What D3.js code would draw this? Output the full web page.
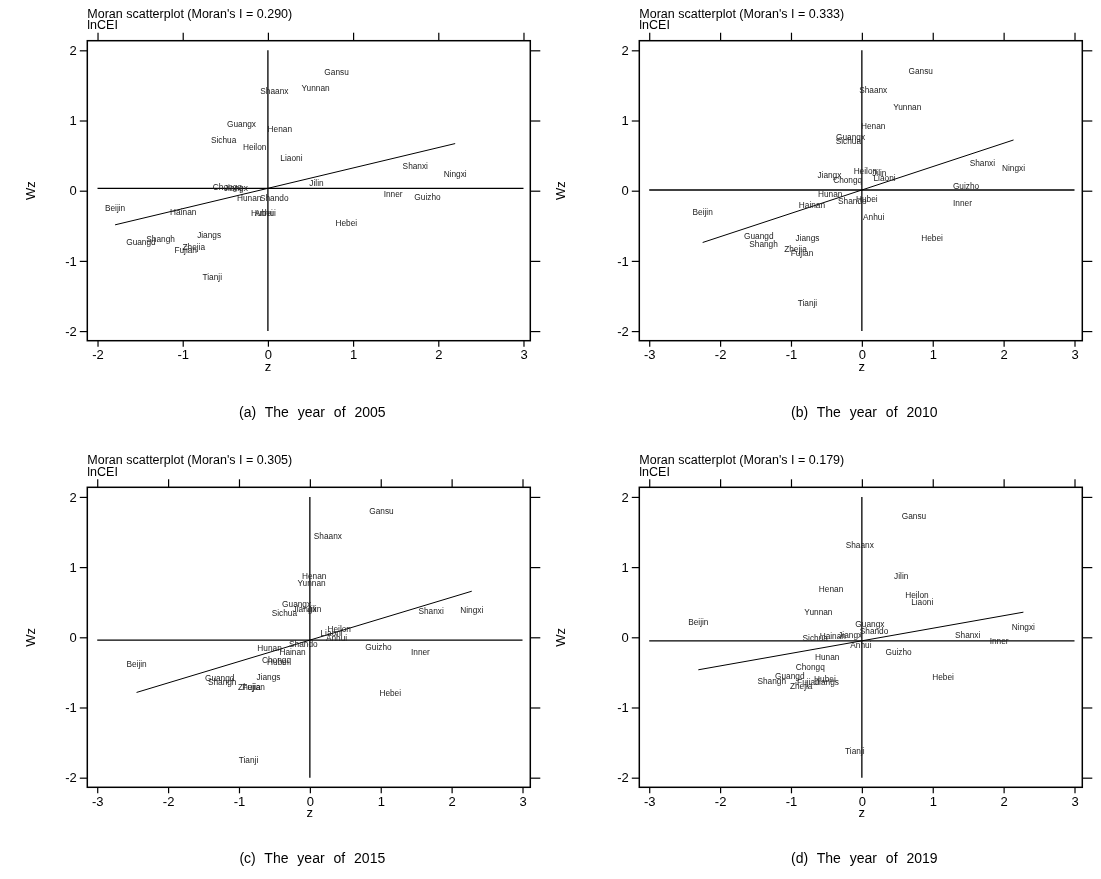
<!DOCTYPE html>
<html><head><meta charset="utf-8">
<script src="https://cdn.jsdelivr.net/npm/d3@7"></script>
<style>
body{margin:0;background:#fff;}
svg{display:block;will-change:transform;}
text{font-family:"Liberation Sans",Arial,sans-serif;}
</style></head>
<body><svg id="chart" width="1101" height="879"></svg>
<script>
// ---------------- data ----------------
const provinces = ["Beijing","Tianjin","Hebei","Shanxi","Inner Mongolia","Liaoning","Jilin","Heilongjiang","Shanghai","Jiangsu","Zhejiang","Anhui","Fujian","Jiangxi","Shandong","Henan","Hubei","Hunan","Guangdong","Guangxi","Hainan","Chongqing","Sichuan","Guizhou","Yunnan","Shaanxi","Gansu","Ningxia"];
const years = [2005, 2010, 2015, 2019];
const panelTags = ["(a)", "(b)", "(c)", "(d)"];
const moranI = [0.290, 0.333, 0.305, 0.179];
const wzMean = [0.034, 0.010, -0.040, -0.050];
const zMean = [0, 0, 0, 0];
const z2005  = [-1.794,-0.653,0.92,1.73,1.47,0.276,0.57,-0.155,-1.26,-0.69,-0.87,-0.03,-0.965,-0.376,0.074,0.14,-0.07,-0.22,-1.49,-0.31,-0.994,-0.476,-0.52,1.873,0.56,0.076,0.806,2.198];
const wz2005 = [-0.25,-1.234,-0.465,0.356,-0.05,0.46,0.105,0.62,-0.69,-0.635,-0.806,-0.32,-0.845,0.04,-0.11,0.875,-0.32,-0.108,-0.726,0.95,-0.31,0.048,0.72,-0.085,1.46,1.425,1.686,0.233];
const z2010  = [-2.246,-0.768,0.99,1.70,1.42,0.32,0.246,0.05,-1.387,-0.768,-0.937,0.166,-0.845,-0.458,-0.134,0.16,0.07,-0.446,-1.454,-0.16,-0.704,-0.2,-0.19,1.47,0.64,0.16,0.83,2.14];
const wz2010 = [-0.308,-1.595,-0.68,0.40,-0.17,0.177,0.256,0.28,-0.76,-0.67,-0.835,-0.37,-0.89,0.228,-0.142,0.926,-0.123,-0.047,-0.64,0.77,-0.204,0.152,0.71,0.07,1.197,1.44,1.705,0.32];
const z2015  = [-2.445,-0.866,1.134,1.71,1.56,0.306,0.06,0.414,-1.237,-0.584,-0.853,0.376,-0.793,-0.075,-0.092,0.062,-0.45,-0.568,-1.272,-0.187,-0.244,-0.47,-0.36,0.968,0.024,0.254,1.01,2.284];
const wz2015 = [-0.38,-1.743,-0.8,0.376,-0.206,0.057,0.404,0.119,-0.634,-0.571,-0.706,-0.006,-0.706,0.404,-0.1,0.866,-0.36,-0.157,-0.577,0.476,-0.206,-0.33,0.35,-0.134,0.77,1.437,1.794,0.39];
const z2019  = [-2.307,-0.099,1.145,1.493,1.937,0.852,0.556,0.777,-1.272,-0.493,-0.856,-0.014,-0.754,-0.165,0.172,-0.434,-0.521,-0.489,-1.017,0.113,-0.41,-0.728,-0.658,0.518,-0.613,-0.03,0.735,2.279];
const wz2019 = [0.223,-1.62,-0.571,0.033,-0.049,0.5,0.866,0.604,-0.624,-0.634,-0.696,-0.11,-0.634,0.029,0.09,0.686,-0.596,-0.286,-0.553,0.186,0.019,-0.42,-0.006,-0.206,0.366,1.319,1.723,0.143];
const zValues = [z2005, z2010, z2015, z2019];
const wzValues = [wz2005, wz2010, wz2015, wz2019];
const xTicksA = [-2,-1,0,1,2,3];
const xTicksB = [-3,-2,-1,0,1,2,3];
const yTicks = [-2,-1,0,1,2];
const variableName = "lnCEI";

// ---------------- layout ----------------
const svg = d3.select("#chart");
const W = 443, H = 300;
const panels = [
  {L:87.3,  T:40.7,  xDom:[-2.12,3.08], ticks:xTicksA},
  {L:639.3, T:40.7,  xDom:[-3.14,3.11], ticks:xTicksB},
  {L:87.3,  T:487.3, xDom:[-3.14,3.11], ticks:xTicksB},
  {L:639.3, T:487.3, xDom:[-3.14,3.11], ticks:xTicksB}
];
const fmt = d => String(d);

panels.forEach((p, k) => {
  const g = svg.append("g").attr("transform", `translate(${p.L},${p.T})`);
  const x = d3.scaleLinear().domain(p.xDom).range([0, W]);
  const y = d3.scaleLinear().domain([-2.137, 2.137]).range([H, 0]);

  // titles
  g.append("text").attr("x", 0).attr("y", -23).attr("font-size", 12.5).attr("fill","#000")
    .text(`Moran scatterplot (Moran's I = ${moranI[k].toFixed(3)})`);
  g.append("text").attr("x", 0).attr("y", -11.3).attr("font-size", 12.5).attr("fill","#000")
    .text(variableName);

  // axes
  const axL = d3.axisLeft(y).tickValues(yTicks).tickSize(7.5).tickPadding(3).tickFormat(fmt);
  const axR = d3.axisRight(y).tickValues(yTicks).tickSize(10).tickFormat("");
  const axB = d3.axisBottom(x).tickValues(p.ticks).tickSize(6).tickPadding(3).tickFormat(fmt);
  const axT = d3.axisTop(x).tickValues(p.ticks).tickSize(8).tickFormat("");
  const styleAx = s => { s.select(".domain").remove(); s.selectAll("line").attr("stroke","#000").attr("stroke-width",1.2);
    s.selectAll("text").attr("font-size",13).attr("fill","#000").attr("font-family","Liberation Sans, Arial, sans-serif"); };
  g.append("g").call(axL).call(styleAx);
  g.append("g").attr("transform", `translate(${W},0)`).call(axR).call(styleAx);
  g.append("g").attr("transform", `translate(0,${H})`).call(axB).call(styleAx);
  g.append("g").call(axT).call(styleAx);

  // box
  g.append("rect").attr("x",0).attr("y",0).attr("width",W).attr("height",H)
    .attr("fill","none").attr("stroke","#000").attr("stroke-width",1.5);

  // axis titles
  g.append("text").attr("x", x(0)).attr("y", H + 30).attr("text-anchor","middle")
    .attr("font-size",13).text("z");
  const wzX = k % 2 === 0 ? -52 : -74;
  g.append("text").attr("transform", `translate(${wzX},${y(0)}) rotate(-90)`)
    .attr("text-anchor","middle").attr("font-size",13).text("Wz");

  // reference lines
  const tks = p.ticks;
  g.append("line").attr("x1", x(tks[0])).attr("x2", x(tks[tks.length-1]))
    .attr("y1", y(wzMean[k])).attr("y2", y(wzMean[k])).attr("stroke","#000").attr("stroke-width",1.3);
  g.append("line").attr("x1", x(zMean[k])).attr("x2", x(zMean[k]))
    .attr("y1", y(2)).attr("y2", y(-2)).attr("stroke","#000").attr("stroke-width",1.3);

  // fitted line
  const zs = zValues[k];
  const zmin = d3.min(zs), zmax = d3.max(zs);
  const fit = v => wzMean[k] + moranI[k] * (v - zMean[k]);
  g.append("line").attr("x1", x(zmin)).attr("y1", y(fit(zmin)))
    .attr("x2", x(zmax)).attr("y2", y(fit(zmax))).attr("stroke","#000").attr("stroke-width",1);

  // labels
  const pts = provinces.map((n,i) => ({name:n.slice(0,6), z:zs[i], wz:wzValues[k][i]}));
  g.selectAll("text.lab").data(pts).enter().append("text").attr("class","lab")
    .attr("x", d => x(d.z)).attr("y", d => y(d.wz)).attr("dy","0.35em")
    .attr("text-anchor","middle").attr("font-size",8.3).attr("fill","#222")
    .text(d => d.name);

  // caption
  svg.append("text").attr("x", p.L + 225).attr("y", p.T + 376)
    .attr("text-anchor","middle").attr("font-size",14)
    .attr("font-family","Liberation Serif, Times New Roman, serif")
    .attr("word-spacing", 5)
    .text(`${panelTags[k]} The year of ${years[k]}`);
});
</script></body></html>
